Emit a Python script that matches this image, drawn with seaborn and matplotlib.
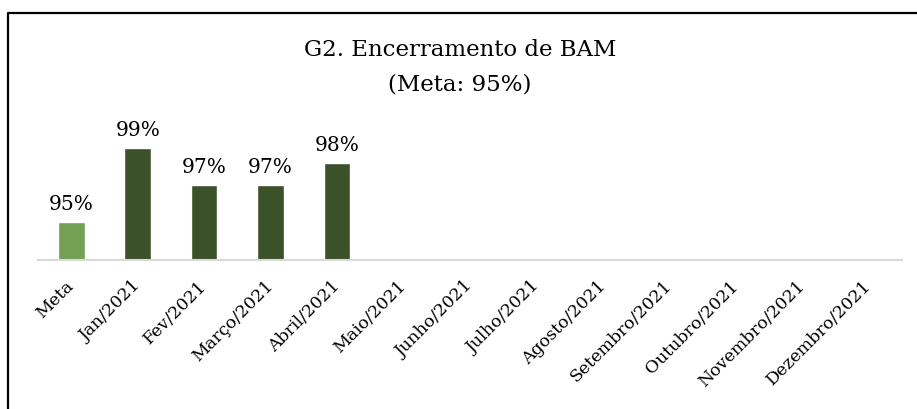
import matplotlib
matplotlib.use("Agg")
import matplotlib.pyplot as plt
import seaborn as sns
import pandas as pd
from matplotlib.lines import Line2D

categories = ["Meta", "Jan/2021", "Fev/2021", "Março/2021", "Abril/2021", "Maio/2021",
              "Junho/2021", "Julho/2021", "Agosto/2021", "Setembro/2021", "Outubro/2021",
              "Novembro/2021", "Dezembro/2021"]
values = [95, 99, 97, 97, 98.2, None, None, None, None, None, None, None, None]
title_line1 = "G2. Encerramento de BAM"
title_line2 = "(Meta: 95%)"

colors = ["#70AD47"] + ["#3A5724"] * (len(categories) - 1)

sns.set_theme(style="white")
plt.rcParams["font.family"] = ["DejaVu Serif"]

df = pd.DataFrame({"cat": categories, "val": values})

fig = plt.figure(figsize=(9.17, 4.09), dpi=100)
W, H = 917, 409
ax = fig.add_axes([38 / W, 1 - 260 / H, (902 - 38) / W, (260 - 110) / H])

sns.barplot(data=df, x="cat", y="val", hue="cat", palette=colors, legend=False,
            width=0.4, ax=ax, order=categories)

ymin = 92.95
ax.set_ylim(ymin, ymin + 150 / 18.5)
ax.set_xlim(-0.5, len(categories) - 0.5)

for i, v in enumerate(values):
    if v is not None:
        ax.annotate(f"{v:.0f}%", (i, v), xytext=(0, 6), textcoords="offset points",
                    ha="center", va="bottom", fontsize=14.5, color="#000000")

ax.set_xlabel("")
ax.set_ylabel("")
ax.set_yticks([])
ax.tick_params(axis="x", length=0, pad=17, colors="#000000")
ax.set_xticks(range(len(categories)))
ax.set_xticklabels(categories, rotation=45, ha="right", va="center",
                   rotation_mode="anchor", fontsize=12.5, color="#000000")
for s in ["top", "right", "left"]:
    ax.spines[s].set_visible(False)
ax.spines["bottom"].set_color("#D9D9D9")
ax.spines["bottom"].set_linewidth(1.5)

fig.text(460 / W, 1 - 50 / H, title_line1, ha="center", va="center", fontsize=16.5, color="#000000")
fig.text(460 / W, 1 - 84 / H, title_line2, ha="center", va="center", fontsize=16.5, color="#000000")

fig.add_artist(Line2D([8 / W, 8 / W, 1], [0, 1 - 13 / H, 1 - 13 / H],
                      transform=fig.transFigure, color="black", linewidth=1.6))

fig.savefig("out.png", dpi=100, facecolor="white")
